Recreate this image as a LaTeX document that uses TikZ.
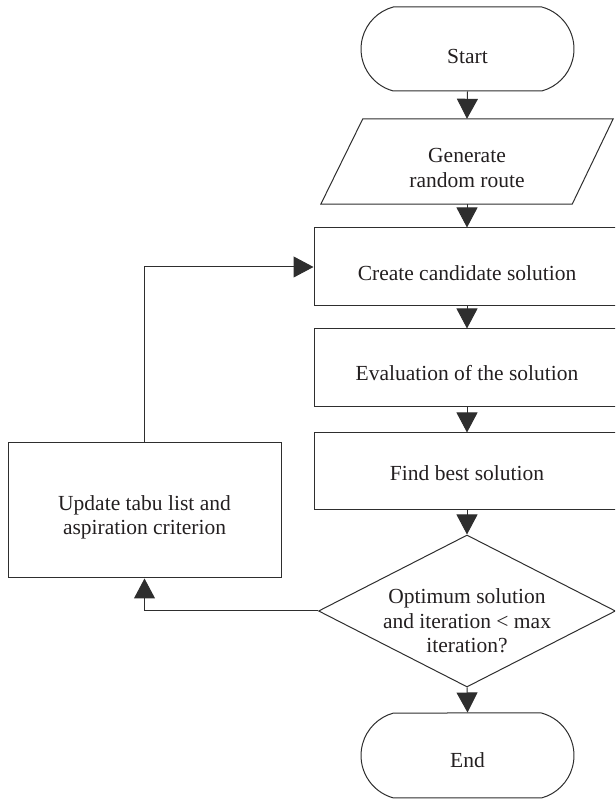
\documentclass[tikz,border=0pt]{standalone}
\usepackage{fontspec}
\setmainfont{Liberation Serif}
\usetikzlibrary{shapes.geometric,shapes.misc,arrows.meta}
\definecolor{linec}{HTML}{2E2E2E}
\definecolor{textc}{HTML}{231F20}
\begin{document}
\begin{tikzpicture}[x=1pt,y=1pt,
  flow/.style={draw=linec, line width=1pt, inner sep=0pt},
  term/.style={flow, rounded rectangle, rounded rectangle arc length=150, minimum width=213pt, minimum height=84pt},
  proc/.style={flow, rectangle, minimum width=306pt, minimum height=78pt},
  decide/.style={flow, diamond, minimum width=297pt, minimum height=152pt},
  lbl/.style={align=center, font=\fontsize{21.5}{24.5}\selectfont, text=textc, inner sep=0pt},
  arr/.style={draw=linec, line width=1pt, -{Triangle[length=20pt,width=21pt]}}
]
\path[clip] (0,0) rectangle (615,799);
% shapes
\node[term] (start) at (467.5,750) {};
\node[inner sep=0pt, minimum width=292pt, minimum height=85pt] (gen) at (467,637.5) {};
\draw[draw=linec, line width=1pt, line join=miter] (gen.south west) -- ([xshift=-41pt]gen.south east) -- (gen.north east) -- ([xshift=42pt]gen.north west) -- cycle;
\node[proc] (create) at (467,532) {};
\node[proc] (eval) at (467,431) {};
\node[proc, minimum height=77pt] (best) at (467,327.5) {};
\node[flow, rectangle, minimum width=273pt, minimum height=135pt] (update) at (144.5,288.5) {};
\node[decide] (dec) at (467,188) {};
\node[term, minimum height=85pt] (end) at (467.5,43.5) {};
% texts
\node[lbl] (tstart) at (467.5,742) {Start};
\node[lbl] (tgen) at (467,631) {Generate\\random route};
\node[lbl] (tcreate) at (467,526.3) {Create candidate solution};
\node[lbl] (teval) at (467,426.3) {Evaluation of the solution};
\node[lbl] (tbest) at (467,326) {Find best solution};
\node[lbl] (tupdate) at (144.5,281.5) {Update tabu list and\\aspiration criterion};
\node[lbl] (tdec) at (467,178.3) {Optimum solution\\and iteration < max\\iteration?};
\node[lbl] (tend) at (467.5,39) {End};
% connectors
\draw[arr] (start.south) -- (gen.north);
\draw[arr] (gen.south) -- (create.north);
\draw[arr] (create.south) -- (eval.north);
\draw[arr] (eval.south) -- (best.north);
\draw[arr] (best.south) -- (dec.north);
\draw[arr] (dec.south) -- (end.north);
\draw[arr] (dec.west) -| (update.south);
\draw[arr] (update.north) |- (create.west);
\end{tikzpicture}
\end{document}
